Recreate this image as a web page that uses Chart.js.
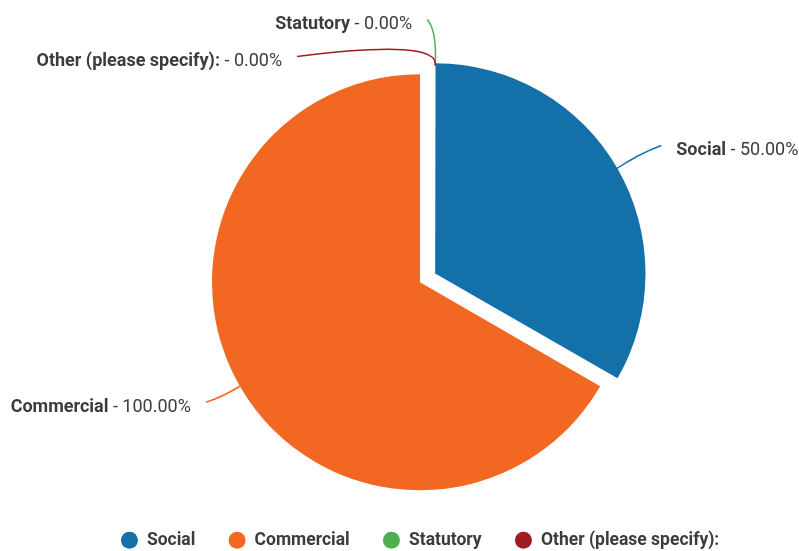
<!DOCTYPE html>
<html>
<head>
<meta charset="utf-8">
<script src="https://cdn.jsdelivr.net/npm/chart.js@4/dist/chart.umd.min.js"></script>
<style>
  html, body { margin: 0; padding: 0; background: #fff; }
  #wrap { width: 799px; height: 551px; }
</style>
</head>
<body>
<div id="wrap"><canvas id="funding-chart"></canvas></div>
<script>
// Funding sources
const categories = ['Social', 'Commercial', 'Statutory', 'Other (please specify):'];
const percentages = [50, 100, 0, 0];
const colors = ['#1470a9', '#f26822', '#4caf50', '#a01c21'];

// Where each leader line ends (relative to where it leaves the pie) and how it bends
const leaders = [
  { dx: 46, dy: -24, cx: 24, cy: -16 },
  { dx: -34, dy: 16, cx: -18, cy: 11 },
  { dx: -8, dy: -46, cx: 2, cy: -35 },
  { dx: -138, dy: -9, cx: 5, cy: -27 },
];

// Chart.js moves an exploded arc by a quarter of its offset
const sliceOffset = [70, 0, 0, 0];

const textColor = '#3c3c3c';
const fontFamily = 'Roboto, "Open Sans", sans-serif';

// Labels outside the pie with curved leader lines
const outsideLabels = {
  id: 'outsideLabels',
  afterDatasetsDraw(chart) {
    const { ctx } = chart;
    const meta = chart.getDatasetMeta(0);

    const anchors = meta.data.map((arc, i) => {
      const { x, y, startAngle, endAngle, outerRadius } = arc.getProps(['x', 'y', 'startAngle', 'endAngle', 'outerRadius'], true);
      const mid = (startAngle + endAngle) / 2;
      // empty slices sit where the first slice begins, so follow its offset
      const hostIndex = percentages[i] === 0 ? 0 : i;
      const hp = meta.data[hostIndex].getProps(['startAngle', 'endAngle'], true);
      const hostMid = (hp.startAngle + hp.endAngle) / 2;
      const off = sliceOffset[hostIndex] / 4;
      const cx = x + Math.cos(hostMid) * off;
      const cy = y + Math.sin(hostMid) * off;
      return { x: cx + Math.cos(mid) * outerRadius, y: cy + Math.sin(mid) * outerRadius };
    });

    ctx.save();
    ctx.lineWidth = 1.5;
    anchors.forEach((p, i) => {
      const l = leaders[i];
      ctx.strokeStyle = colors[i];
      ctx.beginPath();
      ctx.moveTo(p.x, p.y);
      ctx.quadraticCurveTo(p.x + l.cx, p.y + l.cy, p.x + l.dx, p.y + l.dy);
      ctx.stroke();
    });

    ctx.textBaseline = 'middle';
    ctx.textAlign = 'left';
    ctx.fillStyle = textColor;
    anchors.forEach((p, i) => {
      const l = leaders[i];
      const ex = p.x + l.dx;
      const ey = p.y + l.dy + 5;
      const name = categories[i];
      const value = ' - ' + percentages[i].toFixed(2) + '%';
      ctx.font = 'bold 18px ' + fontFamily;
      const nameW = ctx.measureText(name).width;
      ctx.font = '18px ' + fontFamily;
      const valueW = ctx.measureText(value).width;
      const left = l.dx >= 0 ? ex + 15 : ex - 15 - nameW - valueW;
      ctx.font = 'bold 18px ' + fontFamily;
      ctx.fillText(name, left, ey);
      ctx.font = '18px ' + fontFamily;
      ctx.fillText(value, left + nameW, ey);
    });
    ctx.restore();
  }
};

const ctx = document.getElementById('funding-chart').getContext('2d');

new Chart(ctx, {
  type: 'pie',
  data: {
    labels: categories,
    datasets: [{
      data: percentages,
      backgroundColor: colors,
      borderWidth: 0,
      offset: sliceOffset,
      radius: 208,
    }],
  },
  options: {
    responsive: true,
    maintainAspectRatio: false,
    animation: false,
    layout: { padding: { left: 41, right: 0, top: 66, bottom: -8 } },
    plugins: {
      tooltip: { enabled: false },
      legend: {
        position: 'bottom',
        labels: {
          usePointStyle: true,
          pointStyle: 'circle',
          boxWidth: 18,
          boxHeight: 12,
          padding: 33,
          color: textColor,
          font: { family: fontFamily, size: 17.5, weight: 'bold' },
        },
      },
    },
  },
  plugins: [outsideLabels],
});
</script>
</body>
</html>
